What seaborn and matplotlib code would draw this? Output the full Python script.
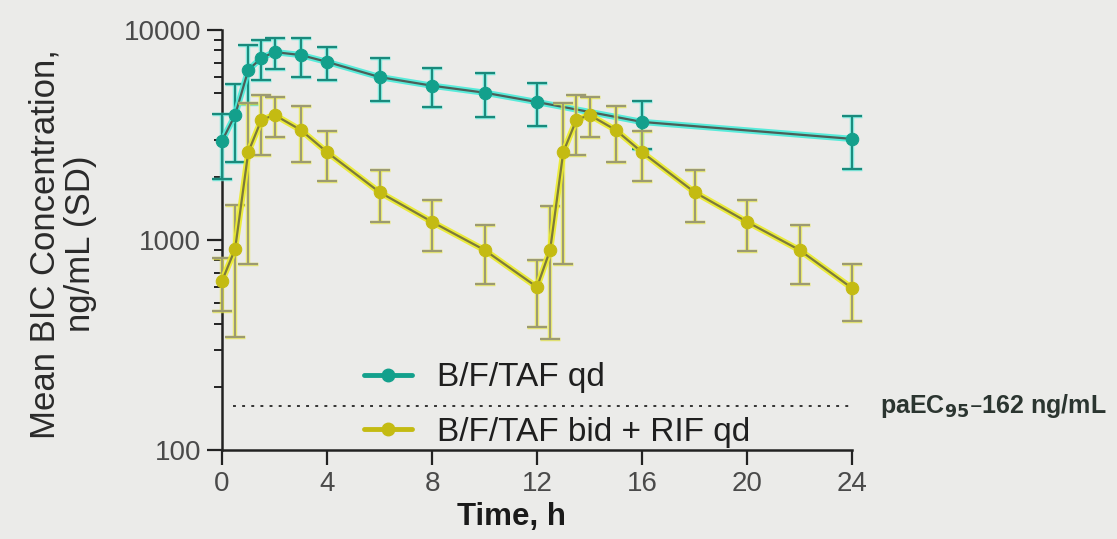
import matplotlib
matplotlib.use("Agg")
import matplotlib.pyplot as plt
from matplotlib.lines import Line2D
import seaborn as sns
import pandas as pd
import numpy as np

# ---------------- data ----------------
time_qd = [0, 0.5, 1, 1.5, 2, 3, 4, 6, 8, 10, 12, 16, 24]
mean_qd = [2960, 3940, 6450, 7360, 7850, 7600, 7050, 5970, 5430, 5030, 4540, 3650, 3030]
sd_qd = [1000, 1600, 2000, 1600, 1350, 1600, 1250, 1400, 1150, 1180, 1050, 950, 850]

time_bid = [0, 0.5, 1, 1.5, 2, 3, 4, 6, 8, 10, 12, 12.5, 13, 13.5, 14, 15, 16, 18, 20, 22, 24]
mean_bid = [638, 906, 2620, 3730, 3940, 3340, 2620, 1690, 1220, 896, 597,
            896, 2620, 3730, 3940, 3340, 2620, 1690, 1220, 896, 590]
sd_bid = [180, 560, 1850, 1200, 850, 1000, 700, 470, 330, 280, 210,
          560, 1850, 1200, 850, 1000, 700, 470, 330, 280, 180]

label_qd = "B/F/TAF qd"
label_bid = "B/F/TAF bid + RIF qd"
x_ticks = [0, 4, 8, 12, 16, 20, 24]
y_ticks = [100, 1000, 10000]
paec95 = 162

# ---------------- style ----------------
sns.set_style("ticks")
plt.rcParams["font.family"] = ["Liberation Sans", "DejaVu Sans"]
bg = "#ebebe9"

fig = plt.figure(figsize=(11.17, 5.39), dpi=100, facecolor=bg)
ax = fig.add_axes([222 / 1117, 1 - 450 / 539, 630 / 1117, 420 / 539])
ax.set_facecolor(bg)

df_qd = pd.DataFrame({"t": time_qd, "c": mean_qd, "sd": sd_qd})
df_bid = pd.DataFrame({"t": time_bid, "c": mean_bid, "sd": sd_bid})

series = [
    (df_qd, "#13a08c", "#48ecd9", "#4d5e58", "#1a8a7c", "#5fe9da"),
    (df_bid, "#c4bb12", "#ecec28", "#7d7a3a", "#9c9a72", "#e8e84a"),
]

for i, (df, mcol, glow, dark, ecol, eglow) in enumerate(series):
    z = 3 + i
    ax.errorbar(df["t"], df["c"], yerr=df["sd"], fmt="none", ecolor=eglow,
                elinewidth=3.2, capsize=7, capthick=2.5, alpha=0.75, zorder=z, clip_on=False)
    ax.errorbar(df["t"], df["c"], yerr=df["sd"], fmt="none", ecolor=ecol,
                elinewidth=1.4, capsize=7, capthick=1.6, zorder=z + 0.1, clip_on=False)
    sns.lineplot(data=df, x="t", y="c", ax=ax, color=glow, lw=4.5, alpha=0.9,
                 zorder=z + 0.2, legend=False)
    sns.lineplot(data=df, x="t", y="c", ax=ax, color=dark, lw=1.6, marker="o",
                 markersize=9, markerfacecolor=mcol, markeredgecolor=mcol,
                 zorder=z + 0.3, legend=False)

for ln in ax.lines:
    ln.set_clip_on(False)

# paEC95 dotted line
ax.hlines(paec95, 0.4, 24, colors="#333333", linestyles=(0, (1.5, 3.2)), lw=1.4, zorder=2)
ax.text(25.05, paec95, r"paEC$_{\mathbf{95}}$–162 ng/mL", fontsize=18, fontweight="bold",
        color="#2b3530", va="center", ha="left", clip_on=False)

ax.set_yscale("log")
ax.set_ylim(100, 10000)
ax.set_xlim(0, 24)
ax.set_xticks(x_ticks)
ax.set_xticklabels([str(v) for v in x_ticks])
ax.set_yticks(y_ticks)
ax.set_yticklabels([str(v) for v in y_ticks])

sns.despine(ax=ax)
for s in ["left", "bottom"]:
    ax.spines[s].set_linewidth(1.8)
    ax.spines[s].set_color("#222222")
ax.tick_params(axis="both", which="major", length=11, width=1.6, color="#222222",
               labelsize=20, labelcolor="#4a4a4a", pad=4)
ax.tick_params(axis="y", which="minor", length=6, width=1.4, color="#222222")
ax.tick_params(axis="x", which="minor", length=0)

ax.set_xlabel("Time, h", fontsize=22.5, fontweight="bold", color="#1a1a1a")
ax.xaxis.set_label_coords(0.46, -0.124)
ax.set_ylabel("Mean BIC Concentration,\nng/mL (SD)", fontsize=25, color="#2a2a2a",
              linespacing=1.1)
ax.yaxis.set_label_coords(-0.198, 0.49)

h1 = Line2D([], [], color="#13a08c", lw=3.5, marker="o", markersize=9,
            markerfacecolor="#13a08c", markeredgecolor="#13a08c")
h2 = Line2D([], [], color="#c4bb12", lw=3.5, marker="o", markersize=9,
            markerfacecolor="#c4bb12", markeredgecolor="#c4bb12")
leg = ax.legend([h1, h2], [label_qd, label_bid], loc="lower left",
                bbox_to_anchor=(0.215, -0.01), frameon=False, fontsize=24,
                handlelength=1.45, handletextpad=0.75, labelspacing=0.7,
                borderpad=0.2, borderaxespad=0)
for t in leg.get_texts():
    t.set_color("#1f1f1f")

fig.savefig("out.png", dpi=100, facecolor=bg)
